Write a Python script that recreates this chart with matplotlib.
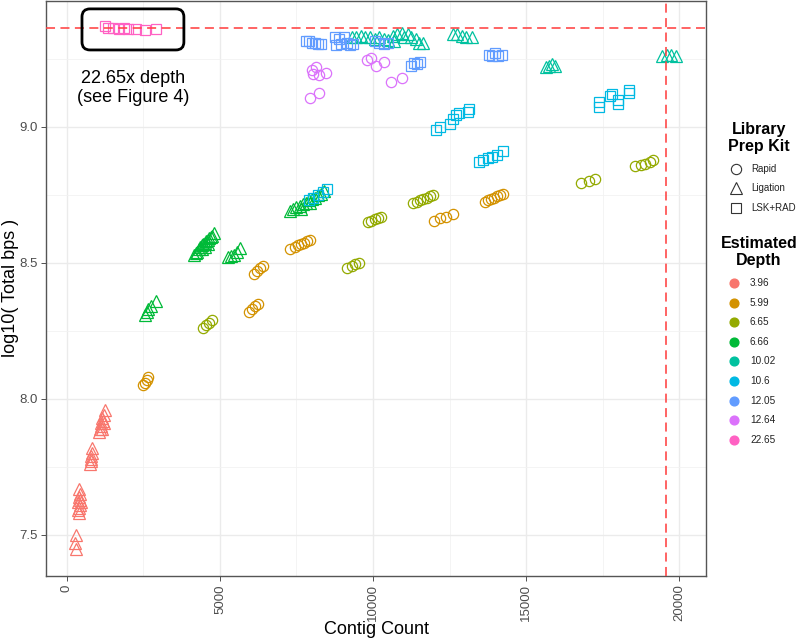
import matplotlib
matplotlib.use('Agg')
import matplotlib.pyplot as plt
from matplotlib.patches import FancyBboxPatch
from matplotlib.lines import Line2D

plt.rcParams['font.family'] = ['Liberation Sans', 'DejaVu Sans']

# ---------------- data ----------------
depth_labels = ['3.96', '5.99', '6.65', '6.66', '10.02', '10.6', '12.05', '12.64', '22.65']
depth_kits = ['Ligation', 'Rapid', 'Rapid', 'Ligation', 'Ligation', 'LSK+RAD', 'LSK+RAD', 'Rapid', 'LSK+RAD']
kit_labels = ['Rapid', 'Ligation', 'LSK+RAD']

contigs_396 = [300, 270, 300,
               400, 430, 380, 440, 360, 410, 390, 350, 450, 400,
               830, 810, 790, 770, 750, 800,
               1250, 1200, 1150, 1180, 1100, 1120, 1080, 1050, 1150, 1200]
logbp_396 = [7.50, 7.47, 7.45,
             7.67, 7.65, 7.64, 7.63, 7.62, 7.61, 7.60, 7.59, 7.62, 7.58,
             7.82, 7.80, 7.78, 7.77, 7.76, 7.79,
             7.96, 7.94, 7.93, 7.92, 7.91, 7.90, 7.89, 7.88, 7.89, 7.91]

contigs_599 = [2500, 2550, 2600, 2650,
               5950, 6050, 6150, 6250,
               6100, 6200, 6300, 6400,
               7300, 7450, 7550, 7650, 7750, 7850, 7950,
               12000, 12200, 12400, 12600,
               13650, 13750, 13850, 13950, 14050, 14150, 14250]
logbp_599 = [8.05, 8.06, 8.07, 8.08,
             8.32, 8.33, 8.34, 8.35,
             8.46, 8.47, 8.48, 8.49,
             8.55, 8.56, 8.565, 8.57, 8.575, 8.58, 8.585,
             8.655, 8.665, 8.67, 8.68,
             8.725, 8.73, 8.735, 8.74, 8.745, 8.75, 8.755]

contigs_665 = [4450, 4550, 4650, 4750,
               9150, 9300, 9400, 9550,
               9850, 9950, 10050, 10150, 10250,
               11300, 11450, 11550, 11650, 11750, 11850, 11950,
               16800, 17050, 17250,
               18550, 18750, 18900, 19050, 19150]
logbp_665 = [8.26, 8.27, 8.28, 8.29,
             8.48, 8.49, 8.495, 8.50,
             8.65, 8.655, 8.66, 8.665, 8.67,
             8.72, 8.725, 8.73, 8.735, 8.74, 8.745, 8.75,
             8.795, 8.80, 8.81,
             8.855, 8.86, 8.865, 8.87, 8.88]

contigs_666 = [2550, 2600, 2650, 2750, 2900,
               4150, 4200, 4250, 4300, 4350, 4400, 4450, 4500, 4550, 4600, 4650, 4700, 4750, 4800, 4400, 4500, 4600,
               5250, 5350, 5450, 5550, 5650,
               7300, 7400, 7500, 7600, 7700, 7800, 7900, 8000, 8100, 8200, 8300, 8400, 7650, 7950]
logbp_666 = [8.31, 8.32, 8.33, 8.34, 8.36,
             8.53, 8.535, 8.54, 8.55, 8.56, 8.565, 8.57, 8.575, 8.58, 8.585, 8.59, 8.595, 8.60, 8.61, 8.55, 8.56, 8.57,
             8.52, 8.525, 8.53, 8.54, 8.555,
             8.69, 8.70, 8.705, 8.71, 8.715, 8.72, 8.73, 8.735, 8.74, 8.75, 8.755, 8.765, 8.70, 8.72]

contigs_1002 = [9300, 9450, 9600, 9750, 9900, 10050, 10200, 10350, 10500, 10650, 10800, 10950,
                11000, 11150, 11250, 11400, 11500, 11650, 10700,
                12600, 12750, 12900, 13050, 13250,
                15650, 15750, 15850, 15950,
                19450, 19600, 19750, 19900]
logbp_1002 = [9.33, 9.33, 9.335, 9.33, 9.33, 9.325, 9.33, 9.325, 9.32, 9.335, 9.34, 9.345,
              9.33, 9.34, 9.33, 9.325, 9.31, 9.31, 9.315,
              9.34, 9.34, 9.335, 9.33, 9.33,
              9.22, 9.225, 9.23, 9.225,
              9.26, 9.265, 9.265, 9.26]

contigs_106 = [7900, 8050, 8200, 8350, 8500,
               12050, 12200, 12500, 12600, 12700, 12800, 13100, 13150,
               13450, 13600, 13750, 13900, 14050, 14250,
               17400, 17400, 17750, 17800, 18000, 18000, 18350, 18350]
logbp_106 = [8.73, 8.74, 8.75, 8.76, 8.77,
             8.99, 9.00, 9.01, 9.03, 9.045, 9.05, 9.055, 9.065,
             8.87, 8.88, 8.885, 8.89, 8.895, 8.91,
             9.075, 9.09, 9.115, 9.12, 9.085, 9.10, 9.125, 9.135]

contigs_1205 = [7800, 7900, 8000, 8100, 8200, 8300,
                8750, 8900, 9050, 9150, 8950, 9250, 9350, 8800,
                10050, 10200, 10350, 10500,
                11250, 11350, 11450, 11550,
                13800, 13900, 14000, 14100, 14200]
logbp_1205 = [9.315, 9.315, 9.31, 9.31, 9.305, 9.305,
              9.33, 9.325, 9.33, 9.31, 9.305, 9.30, 9.305, 9.30,
              9.315, 9.31, 9.305, 9.31,
              9.225, 9.235, 9.23, 9.24,
              9.265, 9.26, 9.27, 9.26, 9.265]

contigs_1264 = [8000, 8150, 8250, 8450, 8050,
                7950, 8250,
                9800, 9950, 10100, 10350,
                10600, 10950]
logbp_1264 = [9.21, 9.22, 9.19, 9.20, 9.195,
              9.105, 9.125,
              9.245, 9.255, 9.225, 9.24,
              9.165, 9.18]

contigs_2265 = [1250, 1350, 1500, 1700, 1850, 2000, 2250, 2550, 2900]
logbp_2265 = [9.37, 9.365, 9.365, 9.36, 9.365, 9.36, 9.36, 9.355, 9.36]

contigs_by_depth = [contigs_396, contigs_599, contigs_665, contigs_666, contigs_1002,
                    contigs_106, contigs_1205, contigs_1264, contigs_2265]
logbp_by_depth = [logbp_396, logbp_599, logbp_665, logbp_666, logbp_1002,
                  logbp_106, logbp_1205, logbp_1264, logbp_2265]

ref_logbp = 9.365
ref_contigs = 19560
note_text = '22.65x depth\n(see Figure 4)'

# ---------------- style ----------------
depth_colors = ['#F8766D', '#D39200', '#93AA00', '#00BA38', '#00C19F',
                '#00B9E3', '#619CFF', '#DB72FB', '#FF61C3']
kit_markers = {'Rapid': 'o', 'Ligation': '^', 'LSK+RAD': 's'}
kit_sizes = {'Rapid': 7.4, 'Ligation': 8.6, 'LSK+RAD': 6.6}

W, H = 799, 641
fig = plt.figure(figsize=(W / 100, H / 100), dpi=100)
fig.patch.set_facecolor('white')

def fx(px):
    return px / W

def fy(py):
    return 1 - py / H

left, right, top, bottom = 46, 706, 1, 576
ax = fig.add_axes([fx(left), fy(bottom), (right - left) / W, (bottom - top) / H])

# scatter
for cx, ly, col, kit in zip(contigs_by_depth, logbp_by_depth, depth_colors, depth_kits):
    ax.plot(cx, ly, linestyle='none', marker=kit_markers[kit], markersize=kit_sizes[kit],
            markerfacecolor='none', markeredgecolor=col, markeredgewidth=0.9, zorder=3)

ax.set_xlim(-686, 20882)
ax.set_ylim(7.349, 9.463)

# reference lines
ax.axhline(ref_logbp, color='#FF4545', lw=1.3, dashes=(5, 3), alpha=0.9, zorder=4)
ax.axvline(ref_contigs, color='#FF4545', lw=1.3, dashes=(5, 3), alpha=0.9, zorder=4)

# box around the 22.65 cluster
xpp = (20882 + 686) / (right - left)
ypp = (9.463 - 7.349) / (bottom - top)
box_x0, box_x1 = min(contigs_2265) - 760, max(contigs_2265) + 920
box_y0, box_y1 = min(logbp_2265) - 0.072, max(logbp_2265) + 0.064
box = FancyBboxPatch((box_x0, box_y0), box_x1 - box_x0, box_y1 - box_y0,
                     boxstyle='round,pad=0,rounding_size=%f' % (8 * xpp),
                     mutation_aspect=ypp / xpp,
                     facecolor='none', edgecolor='black', lw=2.0, zorder=5,
                     transform=ax.transData)
ax.add_patch(box)
ax.text((box_x0 + box_x1) / 2, 9.143, note_text, ha='center', va='center',
        fontsize=13, color='black', linespacing=1.1, zorder=5)

# grid
ax.set_xticks([0, 5000, 10000, 15000, 20000])
ax.set_xticks([2500, 7500, 12500, 17500], minor=True)
ax.set_yticks([7.5, 8.0, 8.5, 9.0])
ax.set_yticks([7.75, 8.25, 8.75, 9.25], minor=True)
ax.set_yticklabels(['7.5', '8.0', '8.5', '9.0'])
ax.set_xticklabels(['0', '5000', '10000', '15000', '20000'], rotation=90)
ax.grid(True, which='major', color='#EBEBEB', lw=1.0, zorder=0)
ax.grid(True, which='minor', color='#F2F2F2', lw=0.6, zorder=0)
ax.set_axisbelow(True)
ax.tick_params(which='major', length=3.5, width=0.6, color='#333333',
               labelsize=9.5, labelcolor='#4D4D4D', pad=2.5)
ax.tick_params(which='minor', length=0)
for s in ax.spines.values():
    s.set_color('#555555')
    s.set_linewidth(1.0)

# axis titles
fig.text(fx(376), fy(629), 'Contig Count', ha='center', va='center', fontsize=13)
fig.text(fx(11), fy(288), 'log10( Total bps )', ha='center', va='center', fontsize=13, rotation=90)

# legends (drawn manually)
fig.text(fx(759), fy(138), 'Library\nPrep Kit', ha='center', va='center',
         fontsize=11.5, fontweight='bold', linespacing=1.2)
kit_y = [169, 188, 208]
for lab, py in zip(kit_labels, kit_y):
    fig.add_artist(Line2D([fx(736)], [fy(py)], transform=fig.transFigure, linestyle='none',
                          marker=kit_markers[lab], markersize=kit_sizes[lab] * 1.0,
                          markerfacecolor='none', markeredgecolor='#333333', markeredgewidth=0.8))
    fig.text(fx(751), fy(py), lab, ha='left', va='center', fontsize=7, color='#222222')

fig.text(fx(759), fy(252), 'Estimated\nDepth', ha='center', va='center',
         fontsize=11.5, fontweight='bold', linespacing=1.2)
for i, (lab, col) in enumerate(zip(depth_labels, depth_colors)):
    py = 283 + i * 19.6
    fig.add_artist(Line2D([fx(734)], [fy(py)], transform=fig.transFigure, linestyle='none',
                          marker='o', markersize=6.3, markerfacecolor=col, markeredgecolor=col))
    fig.text(fx(750), fy(py), lab, ha='left', va='center', fontsize=7.2, color='#222222')

fig.savefig('out.png', dpi=100)
